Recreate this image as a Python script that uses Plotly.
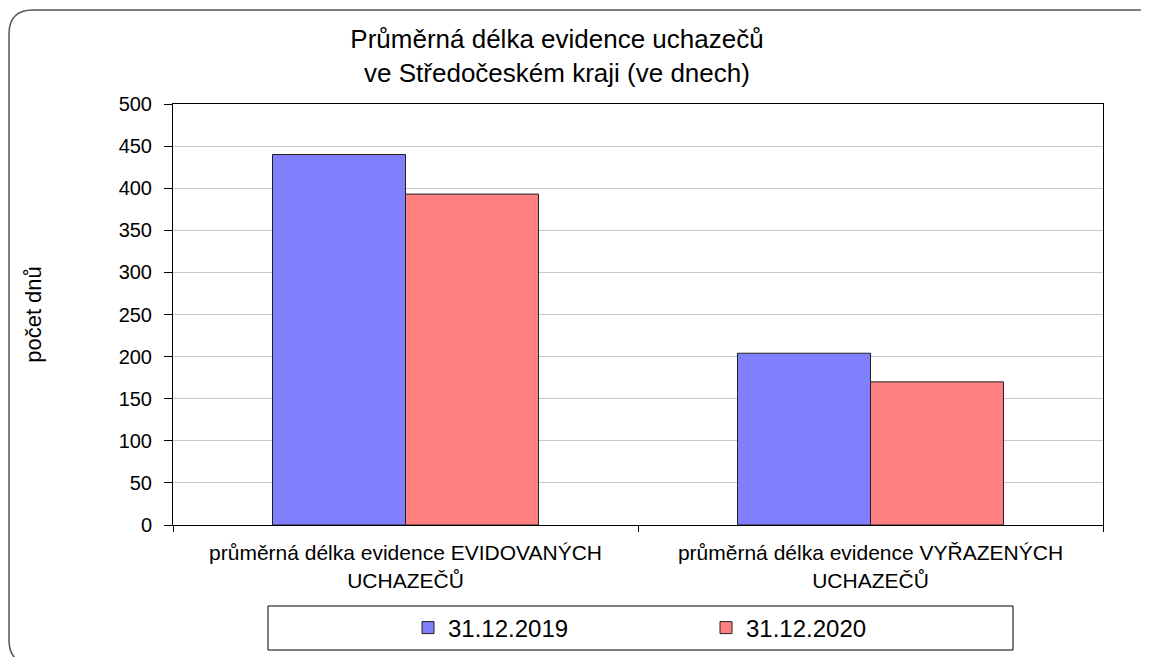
import plotly.graph_objects as go

categories = [
    "průměrná délka evidence EVIDOVANÝCH<br>UCHAZEČŮ",
    "průměrná délka evidence VYŘAZENÝCH<br>UCHAZEČŮ",
]
series_names = ["31.12.2019", "31.12.2020"]
values_2019 = [440, 204]
values_2020 = [393, 170]
y_ticks = [0, 50, 100, 150, 200, 250, 300, 350, 400, 450, 500]

# page offset (browser body margin) and screen geometry
OFF = 8
SW, SH = 1149, 657
W, H = SW - OFF, SH - OFF
L, R, T, B = 173, 1103, 104, 525  # plot area in screen pixels


def px(x):
    return (x - L) / (R - L)


def py(y):
    return (B - y) / (B - T)


FONT = "Liberation Sans, Arial, sans-serif"

fig = go.Figure()
fig.add_trace(go.Bar(
    x=categories, y=values_2019, name=series_names[0],
    marker=dict(color="#8080FF", line=dict(color="#222222", width=1)),
))
fig.add_trace(go.Bar(
    x=categories, y=values_2020, name=series_names[1],
    marker=dict(color="#FF8080", line=dict(color="#222222", width=1)),
))

# rounded outer border
x0, y0, x1, y1, r = 9, 10, 1164, 664, 24
path = (
    f"M {px(x0)},{py(y0 + r)} "
    f"Q {px(x0)},{py(y0)} {px(x0 + r)},{py(y0)} "
    f"L {px(x1 - r)},{py(y0)} "
    f"Q {px(x1)},{py(y0)} {px(x1)},{py(y0 + r)} "
    f"L {px(x1)},{py(y1 - r)} "
    f"Q {px(x1)},{py(y1)} {px(x1 - r)},{py(y1)} "
    f"L {px(x0 + r)},{py(y1)} "
    f"Q {px(x0)},{py(y1)} {px(x0)},{py(y1 - r)} Z"
)
shapes = [
    dict(type="path", xref="paper", yref="paper", path=path,
         line=dict(color="#555555", width=1.5), layer="below"),
    dict(type="rect", xref="paper", yref="paper",
         x0=px(268), x1=px(1013), y0=py(606), y1=py(650),
         line=dict(color="#000000", width=1), fillcolor="rgba(0,0,0,0)"),
]

fig.update_layout(
    width=W, height=H,
    margin=dict(l=L - OFF, r=SW - R, t=T - OFF, b=SH - B, autoexpand=False),
    paper_bgcolor="white", plot_bgcolor="white",
    font=dict(family=FONT, color="black"),
    barmode="group", bargap=0.428, bargroupgap=0,
    title=dict(
        text="Průměrná délka evidence uchazečů<br>ve Středočeském kraji (ve dnech)",
        x=549 / W, xref="container", xanchor="center",
        y=1 - 40 / H, yref="container", yanchor="top",
        font=dict(size=26, family=FONT, color="black"),
    ),
    xaxis=dict(
        showline=True, linecolor="black", linewidth=1, mirror=True,
        ticks="outside", tickson="boundaries", ticklen=6, tickcolor="black",
        tickfont=dict(size=21, family=FONT, color="black"),
        ticklabelstandoff=9,
        showgrid=False,
    ),
    yaxis=dict(
        range=[0, 500], tickvals=y_ticks,
        showline=True, linecolor="black", linewidth=1, mirror=True,
        ticks="outside", ticklen=8, tickcolor="black",
        tickfont=dict(size=20, family=FONT, color="black"),
        ticklabelstandoff=8,
        showgrid=True, gridcolor="#C8C8C8", gridwidth=1,
        zeroline=False,
        title=dict(text="počet dnů", font=dict(size=22, family=FONT, color="black"),
                   standoff=70),
    ),
    showlegend=True,
    legend=dict(
        orientation="h", x=px(408), xanchor="left", y=py(628), yanchor="middle",
        bgcolor="rgba(0,0,0,0)", borderwidth=0,
        font=dict(size=24, family=FONT, color="black"),
        entrywidth=253, entrywidthmode="pixels",
        traceorder="normal",
    ),
    shapes=shapes,
)

fig.write_html("out.html")
